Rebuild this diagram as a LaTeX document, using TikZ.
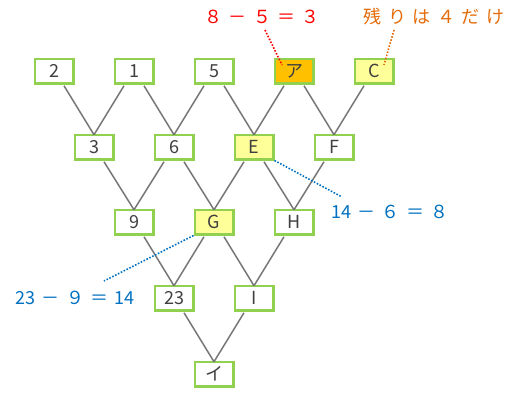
\documentclass[tikz,border=0pt]{standalone}
\usepackage{fontspec}
\setmainfont{Noto Sans CJK JP}
\definecolor{boxgreen}{HTML}{92D050}
\definecolor{textgray}{HTML}{404040}
\definecolor{edgegray}{HTML}{777777}
\definecolor{lightyel}{HTML}{FFFF99}
\definecolor{orangefill}{HTML}{FFC000}
\definecolor{annred}{HTML}{FF0000}
\definecolor{annorange}{HTML}{E46C0A}
\definecolor{annblue}{HTML}{0070C0}
\newcommand\gp{\hspace{0.36em}}
\begin{document}
\begin{tikzpicture}[x=1pt,y=-1pt,
  box/.style={draw=boxgreen, line width=2.5pt, fill=white, minimum width=38.5pt, minimum height=24.5pt, inner sep=0pt, text=textgray, font=\fontsize{18}{18}\selectfont},
  yel/.style={box, fill=lightyel},
  org/.style={box, fill=orangefill},
  edge/.style={draw=edgegray, line width=1.5pt},
  dots/.style={line width=1.6pt, dash pattern=on 1.6pt off 1.6pt},
  ann/.style={inner sep=0pt, font=\fontsize{18}{18}\selectfont}]
\useasboundingbox (0,0) rectangle (519,394);
% row 1
\node[box] (a1) at (54,71) {2};
\node[box] (a2) at (134,71) {1};
\node[box] (a3) at (214,71) {5};
\node[org] (a4) at (294,71) {ア};
\node[yel] (a5) at (374,71) {C};
% row 2
\node[box] (b1) at (94,147) {3};
\node[box] (b2) at (174,147) {6};
\node[yel] (b3) at (254,147) {E};
\node[box] (b4) at (334,147) {F};
% row 3
\node[box] (c1) at (134,222) {9};
\node[yel] (c2) at (214,222) {G};
\node[box] (c3) at (294,222) {H};
% row 4
\node[box] (d1) at (174,298) {23};
\node[box] (d2) at (254,298) {I};
% row 5
\node[box] (e1) at (214,374) {イ};
% edges
\foreach \p/\q/\c in {a1/a2/b1, a2/a3/b2, a3/a4/b3, a4/a5/b4, b1/b2/c1, b2/b3/c2, b3/b4/c3, c1/c2/d1, c2/c3/d2, d1/d2/e1}{
  \draw[edge] ([xshift=10pt,yshift=-1.25pt]\p.south) -- ([yshift=-1.25pt]\c.north);
  \draw[edge] ([xshift=-10pt,yshift=-1.25pt]\q.south) -- ([yshift=-1.25pt]\c.north);
}
% annotations
\node[ann, text=annred] (t1) at (262,17) {８\gp－\gp５\gp＝\gp３};
\node[ann, text=annorange] (t2) at (434,17) {残\gp り\gp は\gp ４\gp だ\gp け};
\node[ann, text=annblue] (t3) at (390,212) {14\gp－\gp６\gp＝\gp８};
\node[ann, text=annblue] (t4) at (75,298) {23\gp－\gp９\gp＝\gp14};
\coordinate (r1) at (265,30);
\coordinate (r2) at (282,65);
\coordinate (o1) at (394,30);
\coordinate (o2) at (384,65);
\coordinate (bl1) at (342,197);
\coordinate (bl2) at (104,281);
\draw[dots, annred] (r1) -- (r2);
\draw[dots, annorange] (o1) -- (o2);
\draw[dots, annblue] (b3.south east) -- (bl1);
\draw[dots, annblue] (c2.south west) -- (bl2);
\end{tikzpicture}
\end{document}
